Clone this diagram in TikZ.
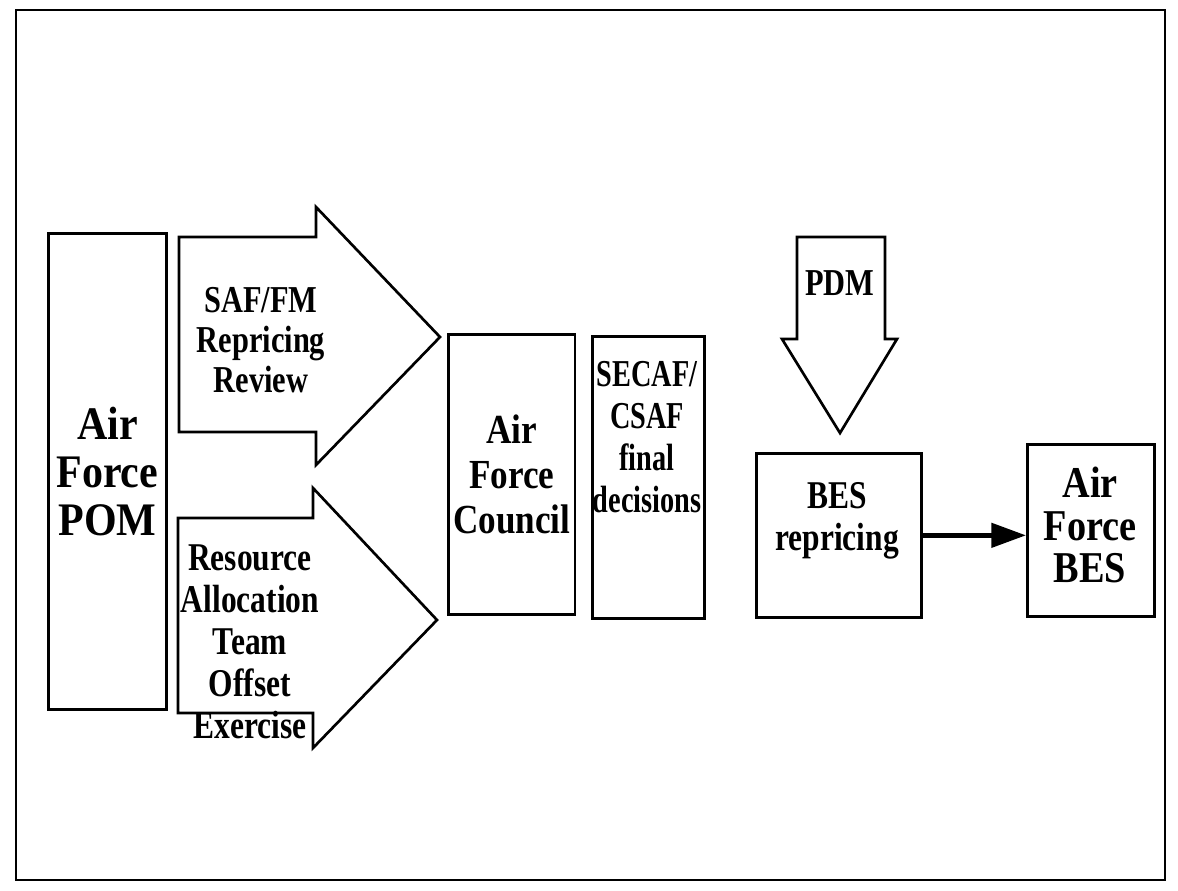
\documentclass[tikz,border=0pt]{standalone}
\usepackage{fontspec}
\setmainfont{Liberation Serif}[FakeStretch=0.8]
\newfontfamily\fpom{Liberation Serif}[FakeStretch=0.9]
\newfontfamily\fcouncil{Liberation Serif}[FakeStretch=0.85]
\newfontfamily\fsecaf{Liberation Serif}[FakeStretch=0.745]
\newfontfamily\fafbes{Liberation Serif}[FakeStretch=0.87]
\usetikzlibrary{arrows.meta}
\begin{document}
\begin{tikzpicture}[x=0.75pt,y=-0.75pt,
  box/.style={draw, line width=2pt, inner sep=0pt, anchor=north west, align=center},
  bigarrow/.style={draw, line width=2pt, line join=miter},
  lbl/.style={align=center, inner sep=0pt},
  fpomst/.style={font=\fontsize{35}{36}\fpom\bfseries},
  fcouncilst/.style={font=\fontsize{31}{34}\fcouncil\bfseries},
  fsecafst/.style={font=\fontsize{28.5}{31.5}\fsecaf\bfseries},
  fafbesst/.style={font=\fontsize{33}{32}\fafbes\bfseries},
  f30/.style={font=\fontsize{28.5}{30}\selectfont\bfseries},
  f31/.style={font=\fontsize{29.5}{31.5}\selectfont\bfseries}]
\useasboundingbox (0,0) rectangle (1178,891);
\draw[line width=1.5pt] (16,10) rectangle (1165,880);
% Air Force POM
\node[box, fpomst, minimum width=88.5pt, minimum height=357pt] (pom) at (47,232) {Air\\Force\\POM};
% SAF/FM arrow
\draw[bigarrow] (179,237) -- (316,237) -- (316,207) -- (440,337) -- (316,465) -- (316,432) -- (179,432) -- cycle;
\node[lbl, f30] (saf) at (261,340) {SAF/FM\\Repricing\\Review};
% Resource arrow
\draw[bigarrow] (178,518) -- (313,518) -- (313,488) -- (437,620) -- (313,748) -- (313,713) -- (178,713) -- cycle;
\node[lbl, f31] (rat) at (250,642) {Resource\\Allocation\\Team\\Offset\\Exercise};
% Council
\node[box, fcouncilst, minimum width=95pt, minimum height=210pt] (afc) at (447,333) {Air\\Force\\Council};
% SECAF
\node[box, minimum width=84pt, minimum height=211.5pt] (secaf) at (591,335) {};
\node[lbl, fsecafst] (secaft) at (647,437) {SECAF/\\CSAF\\final\\decisions};
% PDM arrow
\draw[bigarrow] (797,237) -- (885,237) -- (885,339) -- (897,339) -- (840,433) -- (782,339) -- (797,339) -- cycle;
\node[lbl, f30] (pdm) at (840,283) {PDM};
% BES repricing
\node[box, minimum width=123.75pt, minimum height=123pt] (bes) at (755,452) {};
\node[lbl, f31] (best) at (837,521) {BES\\repricing};
% Air Force BES
\node[box, minimum width=95.25pt, minimum height=129pt] (afbes) at (1026,443) {};
\node[lbl, fafbesst] (afbest) at (1090,525) {Air\\Force\\BES};
\draw[line width=3.5pt, -{Triangle[length=26pt,width=18pt]}] (bes.east) -- (bes.east -| afbes.west);
\end{tikzpicture}
\end{document}
